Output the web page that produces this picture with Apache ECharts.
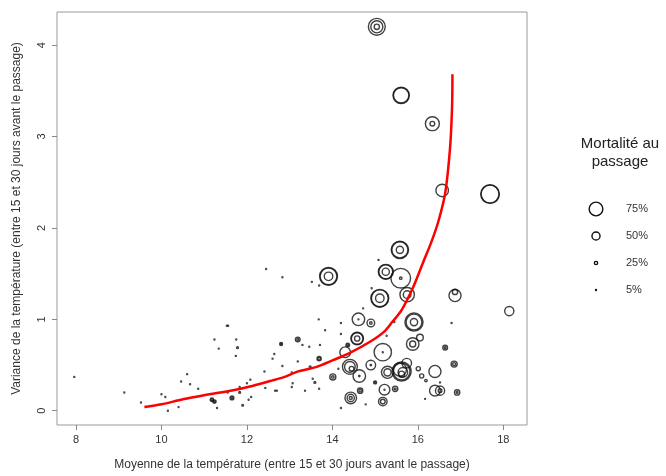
<!DOCTYPE html>
<html>
<head>
<meta charset="utf-8">
<script src="https://cdn.jsdelivr.net/npm/echarts@6/dist/echarts.min.js"></script>
<style>
html,body{margin:0;padding:0;background:#fff;}
#chart{width:666px;height:476px;}
</style>
</head>
<body>
<div id="chart"></div>
<script>
// ---- data ----
const xTicks = [8, 10, 12, 14, 16, 18];
const yTicks = [0, 1, 2, 3, 4];

// scatter points: mean temperature, variance, mortality (%)
const pointX = [
15.04,15.04,15.04,15.61,15.61,16.34,16.34,16.57,17.69,17.69,
13.91,13.91,13.91,15.25,15.25,15.25,15.58,15.58,15.58,15.11,
15.11,15.11,14.61,14.61,14.90,14.90,15.60,15.60,15.75,15.75,
16.87,16.87,18.14,15.91,15.91,15.91,14.58,14.58,14.58,15.18,
15.18,14.30,14.36,14.36,14.41,14.41,14.45,14.63,14.63,14.90,
14.90,15.29,15.29,15.00,15.00,15.22,15.22,14.65,14.65,14.43,
14.43,14.43,15.18,15.18,14.01,14.01,14.20,14.78,13.69,13.69,
13.19,13.19,12.80,12.80,16.05,15.88,15.88,16.64,16.64,16.85,
16.85,15.62,15.62,15.58,15.65,15.62,15.74,16.01,16.40,16.09,
16.19,16.52,16.40,16.52,16.52,16.92,16.92,15.47,15.47,16.17,
12.83,13.52,13.69,15.08,14.92,14.72,13.68,14.20,15.45,16.79,
14.20,13.30,13.46,13.71,13.83,12.64,12.60,12.83,13.19,13.48,
13.05,13.54,13.59,13.07,13.05,13.36,13.69,12.70,14.14,15.27,
12.45,11.53,11.56,11.24,11.75,11.34,11.78,11.74,7.96,10.60,
10.46,10.67,10.86,12.41,12.08,12.00,11.83,12.43,12.66,9.13,
10.00,10.09,9.52,11.55,11.83,11.18,11.18,11.24,11.24,11.65,
11.65,12.10,12.04,11.90,11.30,10.40,10.15
];
const pointY = [
4.20,4.20,4.20,3.45,3.45,3.14,3.14,2.41,2.37,2.37,
1.47,1.47,1.47,1.52,1.52,1.52,1.76,1.76,1.76,1.23,
1.23,1.23,1.00,1.00,0.96,0.96,1.45,1.45,1.27,1.27,
1.26,1.30,1.09,0.97,0.97,0.97,0.79,0.79,0.79,0.64,
0.64,0.64,0.72,0.72,0.48,0.48,0.46,0.38,0.38,0.50,
0.50,0.42,0.42,0.31,0.31,0.23,0.23,0.22,0.22,0.14,
0.14,0.14,0.10,0.10,0.37,0.37,0.03,0.07,0.57,0.57,
0.78,0.78,0.73,0.73,0.80,0.73,0.73,0.69,0.69,0.51,
0.51,0.43,0.43,0.45,0.42,0.40,0.52,0.46,0.43,0.38,
0.33,0.31,0.22,0.22,0.22,0.20,0.20,0.24,0.24,0.13,
1.46,1.41,1.37,1.65,1.34,1.12,1.00,0.96,0.97,0.96,
0.84,0.72,0.70,0.72,0.88,0.62,0.57,0.49,0.54,0.48,
0.42,0.35,0.31,0.30,0.26,0.22,0.24,0.22,0.46,0.82,
1.55,0.93,0.93,0.78,0.78,0.68,0.69,0.60,0.37,0.40,
0.32,0.29,0.24,0.43,0.34,0.30,0.26,0.25,0.22,0.20,
0.18,0.15,0.09,0.20,0.20,0.12,0.12,0.10,0.10,0.14,
0.14,0.15,0.12,0.06,0.03,0.04,0.00
];
const pointMortality = [
88,68,36,86,82,76,33,70,95,92,
92,88,52,80,76,46,90,85,46,92,
88,52,70,5,48,20,99,20,78,48,
68,36,55,93,84,46,70,66,36,90,
5,62,27,16,80,62,33,70,13,57,
13,68,46,23,5,62,5,36,20,66,
46,23,52,33,40,20,5,5,30,20,
33,16,23,5,43,70,40,33,16,40,
23,97,88,73,57,40,57,30,68,30,
20,5,62,55,27,36,16,36,16,5,
5,5,5,5,5,5,5,5,5,5,
5,5,5,5,5,5,5,5,5,16,
5,5,16,5,5,5,5,5,5,5,
5,5,5,5,5,5,16,5,5,5,
5,5,5,5,5,5,5,5,5,5,
5,5,5,5,16,26,16,26,16,28,
16,5,5,16,5,5,5
];

// fitted red curve
const curveX = [9.6,10.0,10.5,11.0,11.68,12.07,12.54,12.85,13.2,13.63,14.0,14.4,14.9,15.2,15.4,15.62,15.89,16.13,16.32,16.48,16.64,16.75,16.80,16.81];
const curveY = [0.04,0.07,0.125,0.17,0.225,0.265,0.325,0.365,0.43,0.48,0.55,0.63,0.76,0.86,0.97,1.10,1.35,1.63,1.85,2.07,2.38,2.85,3.30,3.68];

const legendLevels = [75, 50, 25, 5];
const legendLabels = ['75%', '50%', '25%', '5%'];

// ---- chart ----
const sizeOf = m => Math.max(1, 0.05 * Math.pow(m, 1.3));

const scatterData = pointX.map((x, i) => [x, pointY[i], pointMortality[i]]);
const curveData = curveX.map((x, i) => [x, curveY[i]]);

const chart = echarts.init(document.getElementById('chart'), null, {renderer: 'canvas'});

const FONT = '"Liberation Sans", Arial, sans-serif';
const graphics = [];
graphics.push({
  type: 'text', x: 620, y: 136,
  style: {text: 'Mortalité au', font: '15px ' + FONT, fill: '#222', align: 'center', verticalAlign: 'top'}
});
graphics.push({
  type: 'text', x: 620, y: 154,
  style: {text: 'passage', font: '15px ' + FONT, fill: '#222', align: 'center', verticalAlign: 'top'}
});
legendLevels.forEach((m, i) => {
  const cy = 209 + i * 27;
  graphics.push({
    type: 'circle', shape: {cx: 596, cy: cy, r: sizeOf(m) / 2},
    style: {fill: 'none', stroke: '#111', lineWidth: 1.4}
  });
  graphics.push({
    type: 'text', x: 626, y: cy,
    style: {text: legendLabels[i], font: '11px ' + FONT, fill: '#333', align: 'left', verticalAlign: 'middle'}
  });
});

const option = {
  animation: false,
  backgroundColor: '#fff',
  grid: {left: 57, top: 12, width: 470, height: 413, show: true, borderColor: '#999', borderWidth: 1, backgroundColor: 'transparent'},
  xAxis: {
    type: 'value', min: 7.555, max: 18.555,
    name: 'Moyenne de la température (entre 15 et 30 jours avant le passage)',
    nameLocation: 'middle', nameGap: 34,
    nameTextStyle: {fontFamily: 'Liberation Sans', fontSize: 12, color: '#333'},
    axisLine: {show: false, onZero: false},
    splitLine: {show: false},
    axisTick: {show: true, customValues: xTicks, length: 5, lineStyle: {color: '#888'}},
    axisLabel: {customValues: xTicks, fontFamily: 'Liberation Sans', fontSize: 11, color: '#333', margin: 9}
  },
  yAxis: {
    type: 'value', min: -0.156, max: 4.362,
    name: 'Variance de la température (entre 15 et 30 jours avant le passage)',
    nameLocation: 'middle', nameGap: 34,
    nameTextStyle: {fontFamily: 'Liberation Sans', fontSize: 12, color: '#333'},
    axisLine: {show: false, onZero: false},
    splitLine: {show: false},
    axisTick: {show: true, customValues: yTicks, length: 5, lineStyle: {color: '#888'}},
    axisLabel: {customValues: yTicks, rotate: 90, fontFamily: 'Liberation Sans', fontSize: 11, color: '#333', margin: 10}
  },
  graphic: graphics,
  series: [
    {
      type: 'scatter',
      data: scatterData,
      symbol: 'circle',
      symbolSize: d => sizeOf(d[2]),
      itemStyle: {color: 'rgba(0,0,0,0)', borderColor: '#111', borderWidth: 1.4},
      emphasis: {disabled: true},
      z: 2
    },
    {
      type: 'line',
      data: curveData,
      smooth: 0.3,
      showSymbol: false,
      symbol: 'none',
      lineStyle: {color: '#ff0000', width: 2.5},
      z: 5
    }
  ]
};
chart.setOption(option);
</script>
</body>
</html>
